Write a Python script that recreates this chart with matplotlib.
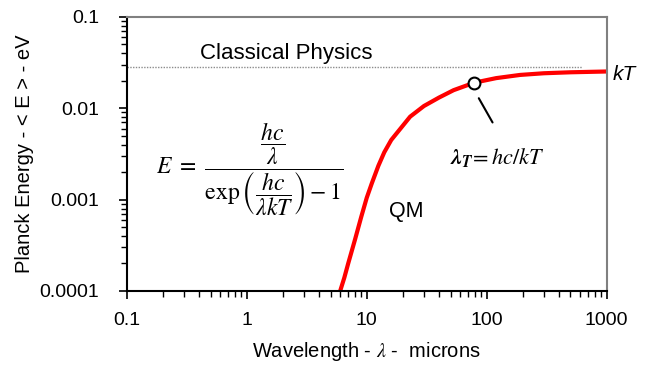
import matplotlib
matplotlib.use("Agg")
from matplotlib import pyplot as plt

plt.rcParams['font.family'] = ['Liberation Sans', 'DejaVu Sans']
plt.rcParams['mathtext.fontset'] = 'stix'

# Planck mean energy (wavelength in microns, energy in eV)
wavelength = [6.0, 6.5, 7.0, 8.0, 9.0, 10, 11, 12.5, 14, 16, 23,
              30, 40, 53, 79, 120, 190, 300, 500, 1000]
energy = [1.0e-4, 1.4e-4, 2.0e-4, 3.7e-4, 6.5e-4, 1.05e-3, 1.5e-3, 2.35e-3,
          3.3e-3, 4.5e-3, 8.1e-3,
          1.06e-2, 1.31e-2, 1.58e-2, 1.91e-2, 2.14e-2, 2.32e-2, 2.42e-2,
          2.48e-2, 2.53e-2]

# classical limit kT (dotted line)
classical_x = [0.1, 630]
classical_y = [0.028, 0.028]

# lambda_T marker
marker_x = [79]
marker_y = [0.0191]

x_ticks = [0.1, 1, 10, 100, 1000]
x_tick_labels = ['0.1', '1', '10', '100', '1000']
y_ticks = [0.0001, 0.001, 0.01, 0.1]
y_tick_labels = ['0.0001', '0.001', '0.01', '0.1']

fig = plt.figure(figsize=(6.6, 3.69), dpi=100)
ax = fig.add_axes([0.1924, 0.2114, 0.7266, 0.7426])

ax.plot(classical_x, classical_y, color='#8c8c8c', linestyle=(0, (1, 1)), linewidth=1)
ax.plot(wavelength, energy, color='#ff0000', linewidth=3, solid_capstyle='butt')
ax.plot(marker_x, marker_y, 'o', markersize=8.5, markerfacecolor='white',
        markeredgecolor='black', markeredgewidth=1.5, zorder=5)

ax.set_xscale('log')
ax.set_yscale('log')
ax.set_xlim(0.1, 1000)
ax.set_ylim(0.0001, 0.1)
ax.set_xticks(x_ticks)
ax.set_xticklabels(x_tick_labels)
ax.set_yticks(y_ticks)
ax.set_yticklabels(y_tick_labels)

ax.tick_params(which='major', direction='out', length=6, width=1.2, labelsize=14, pad=9)
ax.tick_params(which='minor', direction='out', length=4, width=1)
ax.tick_params(axis='y', which='major', pad=14)
ax.minorticks_on()

ax.spines['left'].set_linewidth(1.5)
ax.spines['bottom'].set_linewidth(1.5)
for side in ['top', 'right']:
    ax.spines[side].set_color('#808080')
    ax.spines[side].set_linewidth(1.5)

ax.set_xlabel(r'Wavelength - $\lambda$ -  microns', fontsize=14.5, labelpad=8)
ax.set_ylabel('Planck Energy - < E > - eV', fontsize=14.5, labelpad=4)

# annotations
ax.text(0.407, 0.04, 'Classical Physics', fontsize=16, ha='left', va='center')
ax.text(15.2, 7.4e-4, 'QM', fontsize=15.5, ha='left', va='center')
ax.text(1122, 0.0232, 'kT', fontsize=15, style='italic', ha='left', va='center', clip_on=False)
ax.text(49.8, 2.9e-3, r'$\mathbfit{\lambda_T}\!= hc/kT$', fontsize=16, ha='left', va='center')
ax.text(1.06, 2.15e-3,
        r'$E\ =\ \dfrac{\dfrac{hc}{\lambda}}{\exp\left(\dfrac{hc}{\lambda kT}\right)-1}$',
        fontsize=17, ha='center', va='center')
ax.annotate('', xy=(112, 0.0070), xytext=(86, 0.0129),
            arrowprops=dict(arrowstyle='-', color='black', linewidth=1.5,
                            shrinkA=0, shrinkB=0))

fig.savefig('out.png', dpi=100)
